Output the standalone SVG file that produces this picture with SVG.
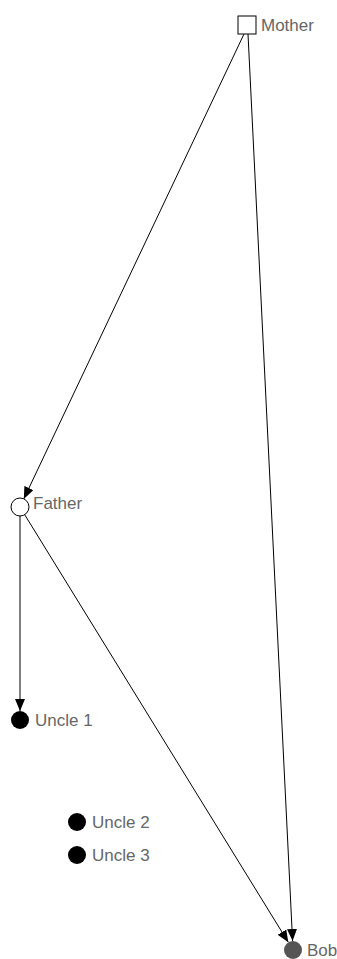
<svg xmlns="http://www.w3.org/2000/svg" width="337" height="959" viewBox="0 0 337 959">
<style>
.lbl{font-family:"Liberation Sans",Arial,sans-serif;font-size:17px;fill:#666}
.edge{stroke:#000;stroke-width:1;fill:none;marker-end:url(#arr)}
</style>
<defs>
<marker id="arr" markerUnits="userSpaceOnUse" markerWidth="12" markerHeight="10" viewBox="0 0 12 10" refX="12" refY="5" orient="auto">
<path d="M0,0 L12,5 L0,10 Z" fill="#000"/>
</marker>
</defs>
<rect width="337" height="959" fill="#fff"/>
<g id="edges">
<line class="edge" x1="244" y1="34" x2="23.8" y2="498.9"/>
<line class="edge" x1="248" y1="34" x2="292.6" y2="941"/>
<line class="edge" x1="24.7" y1="514.7" x2="288.3" y2="942.3"/>
<line class="edge" x1="20" y1="516" x2="20" y2="711"/>
</g>
<g id="mother">
<rect x="238" y="16" width="18" height="18" fill="#fff" stroke="#000" stroke-width="1"/>
<text class="lbl" x="261" y="31">Mother</text>
</g>
<g id="father">
<circle cx="20" cy="507" r="9" fill="#fff" stroke="#000" stroke-width="1"/>
<text class="lbl" x="33" y="509">Father</text>
</g>
<g id="uncle1">
<circle cx="20" cy="720" r="9" fill="#000"/>
<text class="lbl" x="35" y="726">Uncle 1</text>
</g>
<g id="uncle2">
<circle cx="77" cy="822" r="9" fill="#000"/>
<text class="lbl" x="92" y="828">Uncle 2</text>
</g>
<g id="uncle3">
<circle cx="77" cy="855" r="9" fill="#000"/>
<text class="lbl" x="92" y="861">Uncle 3</text>
</g>
<g id="bob">
<circle cx="293" cy="950" r="9" fill="#555"/>
<text class="lbl" x="307" y="956">Bob</text>
</g>
</svg>
